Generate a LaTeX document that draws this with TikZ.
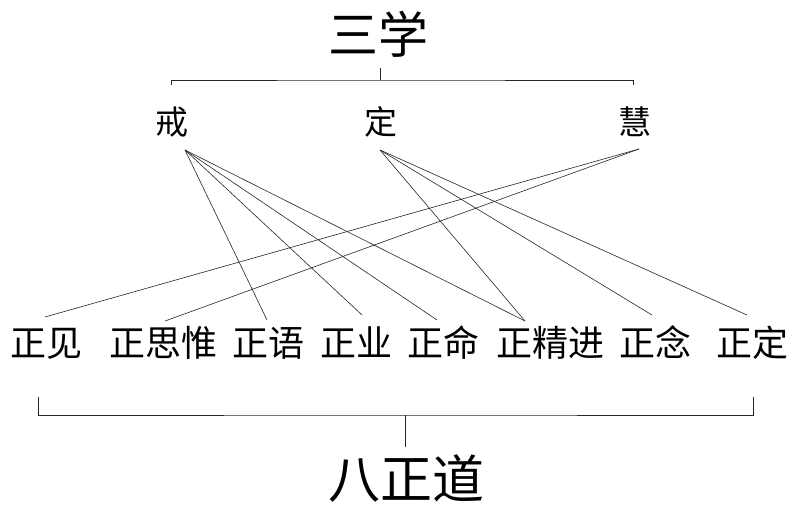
\documentclass[tikz,border=0pt]{standalone}
\usepackage{fontspec}
\newfontfamily\cjk{Noto Sans CJK SC}
\begin{document}
\begin{tikzpicture}[x=1pt,y=-1pt,
    every node/.style={inner sep=0pt,text height=0.8em,text depth=0.2em},
    link/.style={line width=0.6pt,black!85},
    title/.style={font=\cjk\fontsize{50}{50}\selectfont},
    xue/.style={font=\cjk\fontsize{33}{33}\selectfont},
    dao/.style={font=\cjk\fontsize{36}{36}\selectfont}]
    \fill[white] (0,0) rectangle (800,521);
    \useasboundingbox (0,0) rectangle (800,521);
    % three trainings
    \node[title] (sanxue) at (378,51) {三学};
    \node[xue] (jie) at (172,132) {戒};
    \node[xue] (ding) at (381,132) {定};
    \node[xue] (hui) at (635,132) {慧};
    % top bracket
    \coordinate (topmid) at (380,80);
    \draw[link] (380,68) -- (topmid);
    \draw[link] (171,85) -- (171,80) -- (topmid) -- (633,80) -- (633,85);
    % eightfold path
    \node[dao] (jian) at (46,353) {正见};
    \node[dao] (siwei) at (163,353) {正思惟};
    \node[dao] (yu) at (268,353) {正语};
    \node[dao] (ye) at (356,353) {正业};
    \node[dao] (ming) at (443,353) {正命};
    \node[dao] (jingjin) at (550,353) {正精进};
    \node[dao] (nian) at (655,353) {正念};
    \node[dao] (zhengding) at (752,353) {正定};
    % feet of the top labels
    \coordinate (jie-foot) at ([xshift=13pt,yshift=-18pt]jie.center);
    \coordinate (ding-foot) at ([xshift=-1pt,yshift=-18pt]ding.center);
    \coordinate (hui-foot) at ([xshift=4pt,yshift=-17pt]hui.center);
    % jie
    \draw[link] (jie-foot) -- ([xshift=-1pt,yshift=33pt]yu.center);
    \draw[link] (jie-foot) -- ([xshift=6pt,yshift=38pt]ye.center);
    \draw[link] (jie-foot) -- ([xshift=-6pt,yshift=33pt]ming.center);
    \draw[link] (jie-foot) -- ([xshift=-25pt,yshift=32pt]jingjin.center);
    % ding
    \draw[link] (ding-foot) -- ([xshift=-25pt,yshift=32pt]jingjin.center);
    \draw[link] (ding-foot) -- ([xshift=-3pt,yshift=38pt]nian.center);
    \draw[link] (ding-foot) -- ([xshift=-5pt,yshift=38pt]zhengding.center);
    % hui
    \draw[link] (hui-foot) -- ([xshift=-1pt,yshift=36pt]jian.center);
    \draw[link] (hui-foot) -- ([xshift=2pt,yshift=32pt]siwei.center);
    % bottom bracket
    \coordinate (botmid) at (405,415);
    \draw[link] (38,397) -- (38,415) -- (botmid) -- (753,415) -- (753,397);
    \node[title,font=\cjk\fontsize{52}{52}\selectfont] (badao) at (406,495) {八正道};
    \coordinate (badao-top) at (405,447);
    \draw[link] (botmid) -- (badao-top);
\end{tikzpicture}
\end{document}
